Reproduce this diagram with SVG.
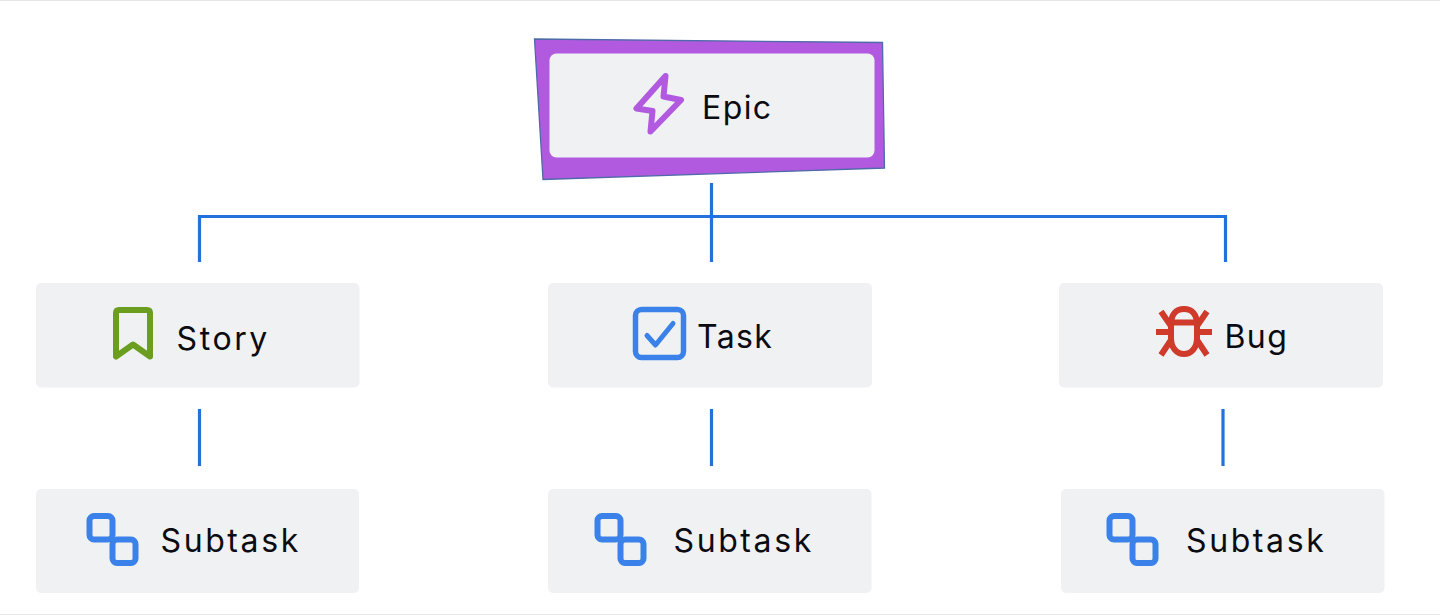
<svg xmlns="http://www.w3.org/2000/svg" width="1440" height="615" viewBox="0 0 1440 615">
<defs>
<style>
.card{fill:#f0f1f3}
.lbl{font-family:Inter,"Noto Sans",sans-serif;font-size:32px;fill:#0b0b12;letter-spacing:1.4px}
.wide{letter-spacing:2.6px}
.ico{fill:none;stroke-linejoin:round;stroke-linecap:round}
.sub{stroke:#3a82ea;stroke-width:6}
.con{fill:none;stroke:#2470dc;stroke-width:3.2}
</style>
<g id="subicon">
<rect class="ico sub" x="89.500" y="516" width="23" height="23.500" rx="4.500"/>
<rect class="ico sub" x="112.500" y="539.500" width="23" height="23.500" rx="4.500"/>
</g>
</defs>
<rect x="0" y="0" width="1440" height="615" fill="#ffffff"/>
<path d="M0 .5H1440M0 614.500H1440" stroke="#e6e6e6" stroke-width="1"/>
<g id="connectors">
<path class="con" d="M199.500 262V216.500H1225.500V262"/>
<path class="con" d="M711.500 183V262"/>
<path class="con" d="M199.500 409V466"/>
<path class="con" d="M711.500 409V466"/>
<path class="con" d="M1223 409V466"/>
</g>
<g id="epic">
<path d="M534.500 39L882.500 42.500L884.500 168L543 179.500Z" fill="#b15ae0" stroke="#4f6aa8" stroke-width="1.300"/>
<rect class="card" x="549.500" y="53.500" width="325" height="104" rx="7"/>
<path class="ico" d="M665.500 76L636.500 108.500L652.500 111L650.500 131.500L681 100L663.500 96.500Z" stroke="#b15ae0" stroke-width="6"/>
<text class="lbl" x="702" y="119">Epic</text>
</g>
<g id="story">
<rect class="card" x="36" y="283" width="323.500" height="104.500" rx="5"/>
<path class="ico" d="M119 310H147Q150 310 150 313V356.500L133 344.500L116 356.500V313Q116 310 119 310Z" stroke="#6b9e1f" stroke-width="6"/>
<text class="lbl wide" x="176.500" y="350">Story</text>
</g>
<g id="task">
<rect class="card" x="548" y="283" width="324" height="104.500" rx="5"/>
<rect class="ico" x="635.500" y="309.500" width="48" height="48" rx="6" stroke="#3a82ea" stroke-width="5.500"/>
<path class="ico" d="M647 335.500L655.500 345L673 323.500" stroke="#3a82ea" stroke-width="5"/>
<text class="lbl" x="697" y="348">Task</text>
</g>
<g id="bug">
<rect class="card" x="1059" y="283" width="324" height="104.500" rx="5"/>
<g class="ico" stroke="#cf3a2b" stroke-width="6" style="stroke-linecap:butt">
<path d="M1171 325C1171 314 1176 309 1184 309C1192 309 1197 314 1197 325V338C1197 348 1191 354 1184 354C1177 354 1171 348 1171 338Z"/>
<path d="M1171 322.500H1197M1156 332H1171M1197 332H1212M1161 311.500L1171 326M1207 311.500L1197 326M1161 355L1171 340M1207 355L1197 340"/>
</g>
<text class="lbl" x="1224.500" y="348">Bug</text>
</g>
<g id="subtask-1">
<rect class="card" x="36" y="489" width="323" height="104" rx="5"/>
<use href="#subicon"/>
<text class="lbl wide" x="160.500" y="552">Subtask</text>
</g>
<g id="subtask-2">
<rect class="card" x="548" y="489" width="323.500" height="104" rx="5"/>
<use href="#subicon" x="508"/>
<text class="lbl wide" x="673.500" y="552">Subtask</text>
</g>
<g id="subtask-3">
<rect class="card" x="1061" y="489" width="323.500" height="104" rx="5"/>
<use href="#subicon" x="1020"/>
<text class="lbl wide" x="1186" y="552">Subtask</text>
</g>
</svg>
